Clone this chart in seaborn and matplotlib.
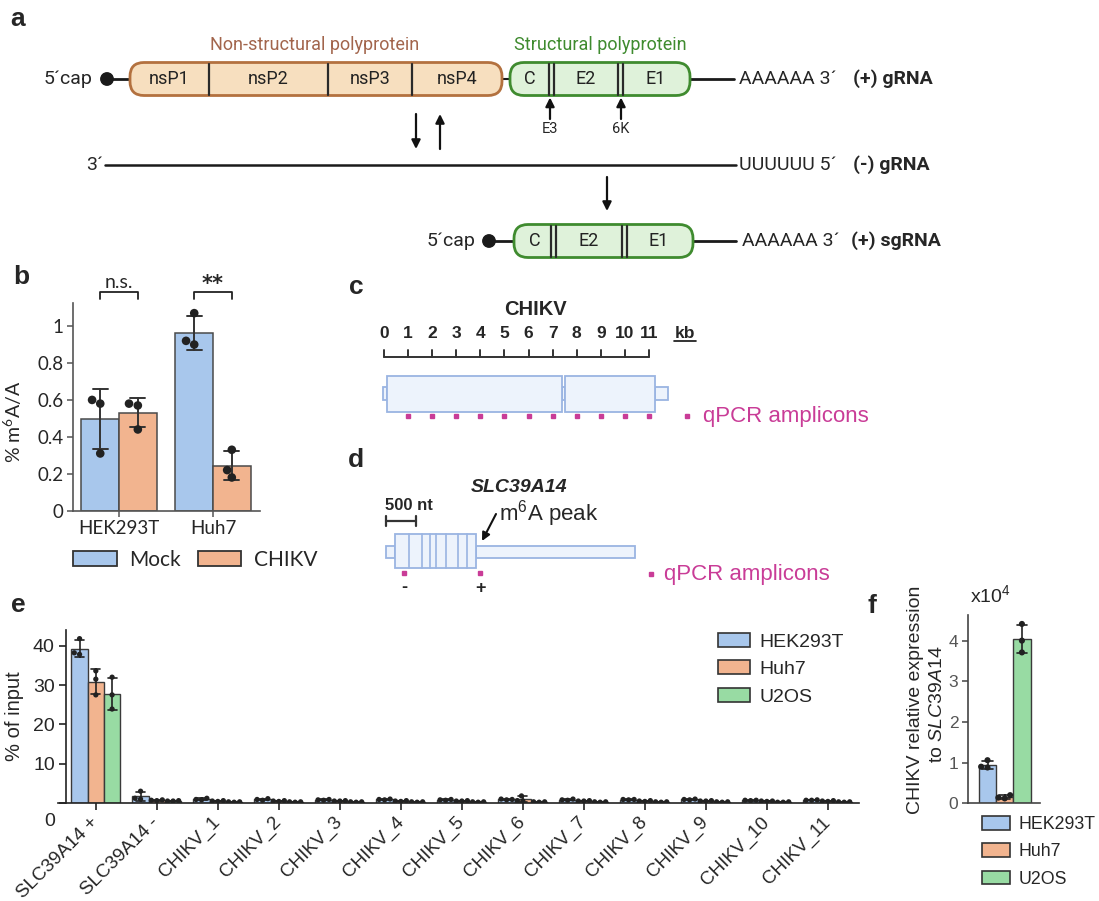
import numpy as np
import pandas as pd
import matplotlib
matplotlib.use("Agg")
import matplotlib.pyplot as plt
import seaborn as sns
from matplotlib.patches import FancyBboxPatch, Rectangle, Circle, Patch
import matplotlib.transforms as mtransforms

# ---------------- data ----------------
# panel a (schematic labels)
ns_proteins = ["nsP1", "nsP2", "nsP3", "nsP4"]
s_proteins = ["C", "E2", "E1"]
s_markers = ["E3", "6K"]
rna_names = ["(+) gRNA", "(-) gRNA", "(+) sgRNA"]

# panel b
b_cells = ["HEK293T", "Huh7"]
b_conditions = ["Mock", "CHIKV"]
b_hek_mock = [0.60, 0.58, 0.31]
b_hek_chikv = [0.58, 0.57, 0.44]
b_huh7_mock = [1.07, 0.92, 0.90]
b_huh7_chikv = [0.33, 0.22, 0.18]
b_significance = ["n.s.", "**"]

# panel c (CHIKV genome, kb)
c_kb_ticks = [0, 1, 2, 3, 4, 5, 6, 7, 8, 9, 10, 11]
c_orf_kb = [(0.12, 7.39), (7.51, 11.25)]
c_utr_kb = [(-0.05, 0.12), (7.39, 7.51), (11.25, 11.77)]
c_amplicon_kb = [1.0, 2.0, 3.0, 4.0, 5.0, 6.0, 7.0, 8.0, 9.0, 10.0, 11.0]

# panel d (SLC39A14 transcript, nt)
d_utr5_nt = (0, 150)
d_cds_nt = (150, 1500)
d_exon_junctions_nt = [383, 600, 733, 833, 1000, 1200, 1350]
d_utr3_nt = (1500, 4150)
d_amplicon_nt = [300, 1570]
d_amplicon_names = ["-", "+"]
d_scale_nt = 500
d_peak_nt = 1600

# panel e
cell_lines = ["HEK293T", "Huh7", "U2OS"]
e_targets = ["SLC39A14 +", "SLC39A14 -", "CHIKV_1", "CHIKV_2", "CHIKV_3",
             "CHIKV_4", "CHIKV_5", "CHIKV_6", "CHIKV_7", "CHIKV_8",
             "CHIKV_9", "CHIKV_10", "CHIKV_11"]
e_hek293t = [[38.2, 37.8, 41.8], [3.0, 1.2, 1.0], [0.8, 0.9, 1.2],
             [0.7, 0.9, 1.1], [0.9, 0.8, 0.7], [0.8, 0.9, 1.0],
             [0.7, 0.9, 0.8], [0.8, 0.9, 1.0], [0.8, 1.0, 0.7],
             [0.9, 0.8, 0.9], [0.8, 0.9, 1.0], [0.6, 0.7, 0.7],
             [0.7, 0.8, 0.7]]
e_huh7 = [[33.6, 31.5, 27.5], [0.8, 0.7, 0.6], [0.6, 0.5, 0.4],
          [0.5, 0.6, 0.4], [0.6, 0.5, 0.5], [0.6, 0.5, 0.4],
          [0.5, 0.6, 0.5], [0.6, 1.8, 0.5], [0.6, 0.5, 0.5],
          [0.5, 0.6, 0.4], [0.6, 0.5, 0.5], [0.5, 0.4, 0.5],
          [0.5, 0.6, 0.4]]
e_u2os = [[32.0, 23.9, 27.5], [0.6, 0.5, 0.5], [0.3, 0.3, 0.2],
          [0.3, 0.2, 0.3], [0.3, 0.3, 0.2], [0.2, 0.3, 0.3],
          [0.3, 0.3, 0.2], [0.3, 0.2, 0.3], [0.3, 0.3, 0.2],
          [0.3, 0.2, 0.3], [0.3, 0.3, 0.2], [0.2, 0.3, 0.2],
          [0.3, 0.2, 0.3]]

# panel f
f_group = ["CHIKV"]
f_hek293t = [1.06, 0.88, 0.90]
f_huh7 = [0.20, 0.12, 0.14]
f_u2os = [4.41, 4.00, 3.71]

# ---------------- style ----------------
sns.set_theme(style="ticks")
plt.rcParams["font.family"] = ["Liberation Sans", "DejaVu Sans"]
plt.rcParams["mathtext.fontset"] = "custom"
plt.rcParams["mathtext.rm"] = "Liberation Sans"
plt.rcParams["mathtext.it"] = "Liberation Sans:italic"
plt.rcParams["mathtext.bf"] = "Liberation Sans:bold"

BLUE, ORANGE, GREEN = "#a8c7ec", "#f2b48f", "#98dba3"
EDGE = "#3a3a3a"
PINK = "#c93c97"

W, H = 1099, 901
fig = plt.figure(figsize=(W / 100, H / 100), dpi=100)


def px_rect(x0, y0, x1, y1):
    return [x0 / W, 1 - y1 / H, (x1 - x0) / W, (y1 - y0) / H]


# overlay for schematic / labels, pixel coordinates
ax0 = fig.add_axes([0, 0, 1, 1])
ax0.set_xlim(0, W)
ax0.set_ylim(H, 0)
ax0.axis("off")

# panel letters
for lab, (x, y) in zip("abcdef", [(18, 19), (21, 277), (356, 287), (356, 460), (18, 605), (872, 606)]):
    ax0.text(x, y, lab, fontsize=19, fontweight="bold", ha="center", va="center")

# ---------------- panel a ----------------
ROB = "Roboto"
NS_FC, NS_EC = "#f7dfbf", "#b3713f"
S_FC, S_EC = "#dff2da", "#3f8b2f"


def box(x0, x1, yc, h, fc, ec):
    p = FancyBboxPatch((x0, yc - h / 2), x1 - x0, h,
                       boxstyle="round,pad=0,rounding_size=14",
                       fc=fc, ec=ec, lw=2.0, zorder=3)
    ax0.add_patch(p)


def vline(x, yc, h):
    ax0.plot([x, x], [yc - h / 2 + 1, yc + h / 2 - 1], color="#2a2a2a", lw=1.6, zorder=4)


y1, hbox = 79, 33
ax0.text(315, 45, "Non-structural polyprotein", color="#a2654c", fontsize=13,
         family=ROB, ha="center", va="center")
ax0.text(600, 45, "Structural polyprotein", color="#3f8b2f", fontsize=13,
         family=ROB, ha="center", va="center")
ax0.text(92, y1, "5´cap", fontsize=14, family=ROB, ha="right", va="center")
ax0.add_patch(Circle((107, y1), 6.2, color="#1a1a1a", zorder=5))
ax0.plot([107, 131], [y1, y1], color="#1a1a1a", lw=2, zorder=2)
box(130, 502, y1, hbox, NS_FC, NS_EC)
for x in [209, 328, 412]:
    vline(x, y1, hbox)
for lab, x in zip(ns_proteins, [169, 268, 370, 457]):
    ax0.text(x, y1, lab, fontsize=13, family=ROB, ha="center", va="center", color="#222", zorder=5)
ax0.plot([502, 510], [y1, y1], color="#1a1a1a", lw=1.5, zorder=2)
box(510, 690, y1, hbox, S_FC, S_EC)
for x in [549, 554, 618, 623]:
    vline(x, y1, hbox)
for lab, x in zip(s_proteins, [530, 586, 656]):
    ax0.text(x, y1, lab, fontsize=13, family=ROB, ha="center", va="center", color="#222", zorder=5)
ax0.plot([690, 734], [y1, y1], color="#1a1a1a", lw=2, zorder=2)
ax0.text(739, y1, "AAAAAA 3´", fontsize=14, family=ROB, ha="left", va="center")
ax0.text(853, y1, rna_names[0], fontsize=14, family=ROB, fontweight="bold", ha="left", va="center")

arrow_kw = dict(arrowstyle="-|>", color="#111", lw=1.6, mutation_scale=13, shrinkA=0, shrinkB=0)
for lab, x in zip(s_markers, [550, 621]):
    ax0.annotate("", xy=(x, y1 + hbox / 2 + 2), xytext=(x, 119), arrowprops=arrow_kw)
    ax0.text(x, 129, lab, fontsize=10.5, family=ROB, ha="center", va="center")

ax0.annotate("", xy=(416, 149), xytext=(416, 114), arrowprops=arrow_kw)
ax0.annotate("", xy=(440, 114), xytext=(440, 149), arrowprops=arrow_kw)

y2 = 165
ax0.text(103, y2, "3´", fontsize=14, family=ROB, ha="right", va="center")
ax0.plot([105, 736], [y2, y2], color="#1a1a1a", lw=1.8)
ax0.text(739, y2, "UUUUUU 5´", fontsize=14, family=ROB, ha="left", va="center")
ax0.text(853, y2, rna_names[1], fontsize=14, family=ROB, fontweight="bold", ha="left", va="center")
ax0.annotate("", xy=(607, 211), xytext=(607, 177), arrowprops=arrow_kw)

y3 = 241
ax0.text(475, y3, "5´cap", fontsize=14, family=ROB, ha="right", va="center")
ax0.add_patch(Circle((489, y3), 6.2, color="#1a1a1a", zorder=5))
ax0.plot([489, 515], [y3, y3], color="#1a1a1a", lw=2, zorder=2)
box(514, 693, y3, hbox, S_FC, S_EC)
for x in [551, 556, 622, 627]:
    vline(x, y3, hbox)
for lab, x in zip(s_proteins, [535, 589, 659]):
    ax0.text(x, y3, lab, fontsize=13, family=ROB, ha="center", va="center", color="#222", zorder=5)
ax0.plot([693, 736], [y3, y3], color="#1a1a1a", lw=2, zorder=2)
ax0.text(742, y3, "AAAAAA 3´", fontsize=14, family=ROB, ha="left", va="center")
ax0.text(851, y3, rna_names[2], fontsize=14, family=ROB, fontweight="bold", ha="left", va="center")

# ---------------- panel b ----------------
LATO = "Lato"
b_vals = {("HEK293T", "Mock"): b_hek_mock, ("HEK293T", "CHIKV"): b_hek_chikv,
          ("Huh7", "Mock"): b_huh7_mock, ("Huh7", "CHIKV"): b_huh7_chikv}
df_b = pd.DataFrame([(c, k, v) for (c, k), vals in b_vals.items() for v in vals],
                    columns=["cell", "condition", "value"])
ax_b = fig.add_axes(px_rect(73, 303, 260, 510.7))
ax_b.set_facecolor("none")
sns.barplot(data=df_b, x="cell", y="value", hue="condition", order=b_cells,
            hue_order=b_conditions, palette=[BLUE, ORANGE], saturation=1, errorbar="sd",
            capsize=0.32, err_kws={"color": "#333", "linewidth": 1.4},
            edgecolor="#4a4a4a", linewidth=1.1, width=0.8, gap=0, ax=ax_b, legend=False)
sns.swarmplot(data=df_b, x="cell", y="value", hue="condition", order=b_cells,
              hue_order=b_conditions, palette=["#222", "#222"], dodge=True, size=6.2,
              ax=ax_b, legend=False, zorder=5)
ax_b.set_xlim(-0.49, 1.5)
ax_b.set_ylim(0, 1.125)
ax_b.set_yticks([0, 0.2, 0.4, 0.6, 0.8, 1.0])
ax_b.set_yticklabels(["0", "0.2", "0.4", "0.6", "0.8", "1"])
ax_b.set_xlabel("")
ax_b.set_ylabel("% m$^\\mathregular{6}$A/A", family=LATO, fontsize=14, va="center")
ax_b.yaxis.set_label_coords((13 - 73) / 187, 0.43)
for s in ["top", "right"]:
    ax_b.spines[s].set_visible(False)
for s in ["left", "bottom"]:
    ax_b.spines[s].set_color("#555")
    ax_b.spines[s].set_linewidth(1.2)
ax_b.tick_params(axis="both", length=4, width=1.1, color="#555", labelsize=13.5, pad=3)
for lab in ax_b.get_xticklabels() + ax_b.get_yticklabels():
    lab.set_family(LATO)
for i, sig in enumerate(b_significance):
    ax_b.plot([i - 0.2, i - 0.2, i + 0.2, i + 0.2], [1.146, 1.186, 1.186, 1.146],
              color="#222", lw=1.3, clip_on=False)
    if sig == "**":
        ax_b.text(i, 1.196, sig, ha="center", va="baseline", family="DejaVu Sans",
                  fontsize=15, fontweight="bold")
    else:
        ax_b.text(i, 1.204, sig, ha="center", va="baseline", family=LATO, fontsize=14)
hb = [Patch(facecolor=c, edgecolor="#333", linewidth=1.3, label=l)
      for c, l in zip([BLUE, ORANGE], b_conditions)]
ax_b.legend(handles=hb, loc="upper left", bbox_to_anchor=(73 / W, 1 - 550 / H),
            bbox_transform=fig.transFigure, ncol=2, frameon=False, borderpad=0,
            borderaxespad=0, handlelength=2.1, handleheight=0.75, handletextpad=0.6,
            columnspacing=0.8, prop={"family": LATO, "size": 15})

# ---------------- panel c ----------------
KB = 24.09  # px per kb
ax_c = fig.add_axes(px_rect(340, 280, 880, 445))
ax_c.set_xlim((340 - 384) / KB, (880 - 384) / KB)
ax_c.set_ylim(445, 280)
ax_c.axis("off")
ax_c.text((535 - 384) / KB, 310, "CHIKV", fontsize=14.5, fontweight="bold", ha="center", va="center")
ax_c.plot([c_kb_ticks[0], c_kb_ticks[-1]], [357, 357], color="#333", lw=1.4)
for k in c_kb_ticks:
    ax_c.plot([k, k], [357, 350], color="#333", lw=1.4)
    ax_c.text(k, 333, str(k), fontsize=12.5, fontweight="bold", ha="center", va="center")
kbx = (685 - 384) / KB
ax_c.text(kbx, 333, "kb", fontsize=12.5, fontweight="bold", ha="center", va="center")
ax_c.plot([kbx - 0.45, kbx + 0.45], [341, 341], color="#111", lw=1.2)
for a, b in c_utr_kb:
    ax_c.add_patch(Rectangle((a, 387), b - a, 13, fc="#edf3fc", ec="#9ab4e2", lw=1.3))
for a, b in c_orf_kb:
    ax_c.add_patch(Rectangle((a, 376), b - a, 35.5, fc="#edf3fc", ec="#9ab4e2", lw=1.3))
ax_c.plot(c_amplicon_kb, [416] * len(c_amplicon_kb), ls="none", marker="s", ms=2.6, color=PINK)
ax_c.plot([(687 - 384) / KB], [416], marker="s", ms=2.6, color=PINK)
ax_c.text((703 - 384) / KB, 416.5, "qPCR amplicons", color=PINK, fontsize=16, ha="left", va="center")

# ---------------- panel d ----------------
NT = 0.06  # px per nt
ax_d = fig.add_axes(px_rect(340, 455, 880, 620))
ax_d.set_xlim((340 - 386) / NT, (880 - 386) / NT)
ax_d.set_ylim(620, 455)
ax_d.axis("off")
ax_d.text((519 - 386) / NT, 487, "SLC39A14", fontsize=14, fontweight="bold", style="italic",
          ha="center", va="center")
ax_d.text(d_scale_nt * 0.78, 505, "500 nt", fontsize=12, fontweight="bold", ha="center", va="center")
ax_d.plot([0, d_scale_nt], [521, 521], color="#333", lw=1.6)
for x in [0, d_scale_nt]:
    ax_d.plot([x, x], [516, 526], color="#333", lw=1.6)
ax_d.text((499 - 386) / NT, 514, "m$^{6}$A peak", fontsize=16, ha="left", va="center")
ax_d.annotate("", xy=(d_peak_nt, 541), xytext=((496 - 386) / NT, 514),
              arrowprops=dict(arrowstyle="-|>", color="#111", lw=1.5, mutation_scale=12,
                              shrinkA=0, shrinkB=0))
ax_d.add_patch(Rectangle((d_utr5_nt[0], 546), d_utr5_nt[1] - d_utr5_nt[0], 12,
                         fc="#edf3fc", ec="#9ab4e2", lw=1.3))
ax_d.add_patch(Rectangle((d_utr3_nt[0], 546), d_utr3_nt[1] - d_utr3_nt[0], 12,
                         fc="#edf3fc", ec="#9ab4e2", lw=1.3))
ax_d.add_patch(Rectangle((d_cds_nt[0], 534), d_cds_nt[1] - d_cds_nt[0], 34,
                         fc="#edf3fc", ec="#9ab4e2", lw=1.3))
for j in d_exon_junctions_nt:
    ax_d.plot([j, j], [534, 568], color="#9ab4e2", lw=1.2)
ax_d.plot(d_amplicon_nt, [573] * len(d_amplicon_nt), ls="none", marker="s", ms=2.6, color=PINK)
for x, lab in zip(d_amplicon_nt, d_amplicon_names):
    ax_d.text(x, 588, lab, fontsize=13, fontweight="bold", ha="center", va="center")
ax_d.plot([(651 - 386) / NT], [574], marker="s", ms=2.6, color=PINK)
ax_d.text((664 - 386) / NT, 574.5, "qPCR amplicons", color=PINK, fontsize=16, ha="left", va="center")

# ---------------- panel e ----------------
rows = []
for cell, series in zip(cell_lines, [e_hek293t, e_huh7, e_u2os]):
    for tgt, reps in zip(e_targets, series):
        for v in reps:
            rows.append((tgt, cell, v))
df_e = pd.DataFrame(rows, columns=["target", "cell", "value"])
ax_e = fig.add_axes(px_rect(58, 630, 859, 803))
ax_e.set_facecolor("none")
sns.barplot(data=df_e, x="target", y="value", hue="cell", order=e_targets,
            hue_order=cell_lines, palette=[BLUE, ORANGE, GREEN], saturation=1, errorbar="sd",
            capsize=0.45, err_kws={"color": "#222", "linewidth": 1.2},
            edgecolor=EDGE, linewidth=1.0, width=0.8, gap=0, ax=ax_e, legend=False)
sns.swarmplot(data=df_e, x="target", y="value", hue="cell", order=e_targets,
              hue_order=cell_lines, palette=["#222"] * 3, dodge=True, size=3.8,
              ax=ax_e, legend=False, zorder=5)
ax_e.set_xlim(-0.62, 12.51)
ax_e.set_ylim(0, 44)
ax_e.spines["left"].set_position(("data", -0.49))
for s in ["top", "right"]:
    ax_e.spines[s].set_visible(False)
for s in ["left", "bottom"]:
    ax_e.spines[s].set_color("#222")
    ax_e.spines[s].set_linewidth(1.2)
ax_e.set_yticks([0, 10, 20, 30, 40])
ax_e.tick_params(axis="both", length=5, width=1.2, color="#222", labelsize=14, pad=3)
ax_e.set_xlabel("")
ax_e.set_ylabel("% of input", fontsize=14.5, va="center")
ax_e.yaxis.set_label_coords((15 - 58) / 801, 0.5)
plt.setp(ax_e.get_xticklabels(), rotation=45, ha="right", va="center",
         rotation_mode="anchor", fontsize=13.6)
ax_e.tick_params(axis="x", pad=7)
lab0 = ax_e.get_yticklabels()[0]
lab0.set_transform(lab0.get_transform() +
                   mtransforms.ScaledTranslation(0, -17 / 100, fig.dpi_scale_trans))
he = [Patch(facecolor=c, edgecolor="#333", linewidth=1.2, label=l)
      for c, l in zip([BLUE, ORANGE, GREEN], cell_lines)]
ax_e.legend(handles=he, loc="upper left", bbox_to_anchor=(718 / W, 1 - 633 / H),
            bbox_transform=fig.transFigure, frameon=False, borderpad=0, borderaxespad=0,
            handlelength=1.65, handleheight=0.72, handletextpad=0.5, labelspacing=0.5,
            prop={"size": 14})

# ---------------- panel f ----------------
rows = []
for cell, reps in zip(cell_lines, [f_hek293t, f_huh7, f_u2os]):
    for v in reps:
        rows.append((f_group[0], cell, v))
df_f = pd.DataFrame(rows, columns=["group", "cell", "value"])
ax_f = fig.add_axes(px_rect(968, 615, 1040, 803.3))
ax_f.set_facecolor("none")
sns.barplot(data=df_f, x="group", y="value", hue="cell", hue_order=cell_lines,
            palette=[BLUE, ORANGE, GREEN], saturation=1, errorbar="sd", capsize=0.5,
            err_kws={"color": "#222", "linewidth": 1.2}, edgecolor=EDGE, linewidth=1.0,
            width=0.8, gap=0, ax=ax_f, legend=False)
sns.swarmplot(data=df_f, x="group", y="value", hue="cell", hue_order=cell_lines,
              palette=["#222"] * 3, dodge=True, size=4.4, ax=ax_f, legend=False, zorder=5)
ax_f.set_xlim(-0.569, 0.547)
ax_f.set_ylim(0, 4.63)
ax_f.set_yticks([0, 1, 2, 3, 4])
ax_f.set_xticks([])
ax_f.set_xlabel("")
ax_f.set_ylabel("")
for s in ["top", "right"]:
    ax_f.spines[s].set_visible(False)
for s in ["left", "bottom"]:
    ax_f.spines[s].set_color("#444")
    ax_f.spines[s].set_linewidth(1.2)
ax_f.tick_params(axis="y", length=4, width=1.1, color="#444", labelsize=12.5,
                 labelcolor="#555", pad=3)
ax0.text(990, 595, "x10$^{4}$", fontsize=14, ha="center", va="center")
ax0.text(915, 700, "CHIKV relative expression", fontsize=14, rotation=90,
         ha="center", va="center")
ax0.text(938, 704, "to $\\mathit{SLC39A14}$", fontsize=14, rotation=90,
         ha="center", va="center")
hf = [Patch(facecolor=c, edgecolor="#333", linewidth=1.2, label=l)
      for c, l in zip([BLUE, ORANGE, GREEN], cell_lines)]
ax_f.legend(handles=hf, loc="upper left", bbox_to_anchor=(982 / W, 1 - 816 / H),
            bbox_transform=fig.transFigure, frameon=False, borderpad=0, borderaxespad=0,
            handlelength=1.6, handleheight=0.8, handletextpad=0.45, labelspacing=0.58,
            prop={"size": 12.8})

fig.savefig("out.png", dpi=100)
